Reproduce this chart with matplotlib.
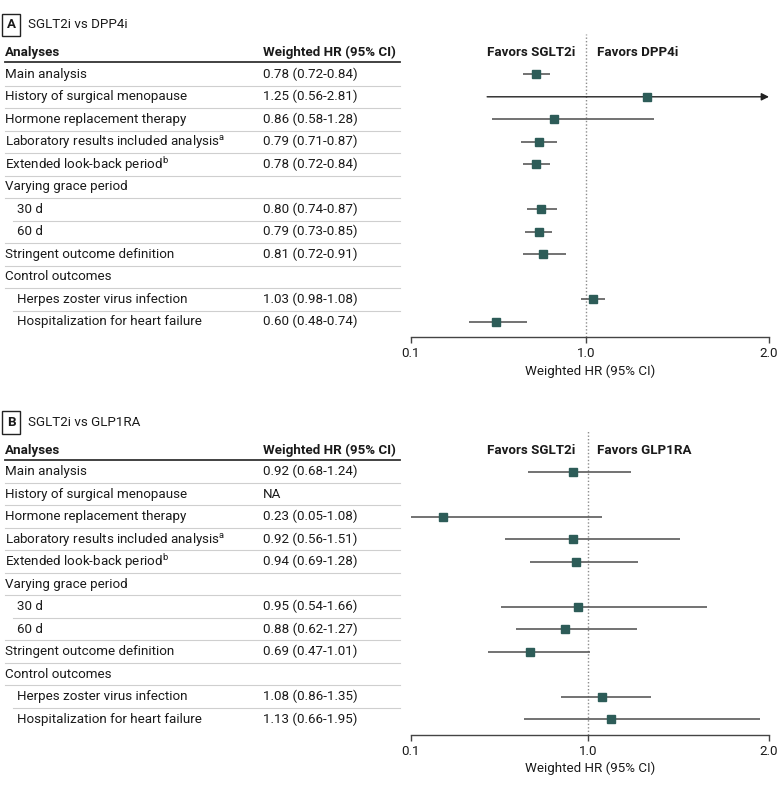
import numpy as np
import matplotlib
matplotlib.use("Agg")
import matplotlib.pyplot as plt
from matplotlib import font_manager
from matplotlib.transforms import blended_transform_factory
from matplotlib.ticker import NullLocator


def pick_font(fams):
    for f in fams:
        try:
            font_manager.findfont(f, fallback_to_default=False)
            return f
        except ValueError:
            pass
    return "DejaVu Sans"


FONT = pick_font(["Liberation Sans Narrow", "Roboto", "Open Sans"])
FS = 10.5 if FONT == "Liberation Sans Narrow" else 9.6
plt.rcParams["font.family"] = [FONT, "DejaVu Sans"]
plt.rcParams["mathtext.fontset"] = "custom"
plt.rcParams["mathtext.rm"] = FONT
plt.rcParams["mathtext.it"] = FONT + ":italic"
plt.rcParams["mathtext.bf"] = FONT + ":bold"

# ---- data ----
analyses = ["Main analysis", "History of surgical menopause", "Hormone replacement therapy",
            r"Laboratory results included analysis$^{\mathrm{a}}$",
            r"Extended look-back period$^{\mathrm{b}}$",
            "Varying grace period", "30 d", "60 d", "Stringent outcome definition",
            "Control outcomes", "Herpes zoster virus infection",
            "Hospitalization for heart failure"]
indent = [0, 0, 0, 0, 0, 0, 1, 1, 0, 0, 1, 1]

nan = np.nan
hr_a = [0.78, 1.25, 0.86, 0.79, 0.78, nan, 0.80, 0.79, 0.81, nan, 1.03, 0.60]
lo_a = [0.72, 0.56, 0.58, 0.71, 0.72, nan, 0.74, 0.73, 0.72, nan, 0.98, 0.48]
hi_a = [0.84, 2.81, 1.28, 0.87, 0.84, nan, 0.87, 0.85, 0.91, nan, 1.08, 0.74]

hr_b = [0.92, nan, 0.23, 0.92, 0.94, nan, 0.95, 0.88, 0.69, nan, 1.08, 1.13]
lo_b = [0.68, nan, 0.05, 0.56, 0.69, nan, 0.54, 0.62, 0.47, nan, 0.86, 0.66]
hi_b = [1.24, nan, 1.08, 1.51, 1.28, nan, 1.66, 1.27, 1.01, nan, 1.35, 1.95]
na_b = [False, True, False, False, False, False, False, False, False, False, False, False]

panels = [
    dict(tag="A", title="SGLT2i vs DPP4i", right="Favors DPP4i",
         hr=hr_a, lo=lo_a, hi=hi_a, na=[False] * 12,
         knots=([0.1, 0.4, 1.0, 1.5, 2.0], [0, 40.3, 174.7, 297.2, 358])),
    dict(tag="B", title="SGLT2i vs GLP1RA", right="Favors GLP1RA",
         hr=hr_b, lo=lo_b, hi=hi_b, na=na_b,
         knots=([0.1, 0.15, 1.0, 2.0], [0, 17.3, 176.7, 358])),
]

W, H = 780, 789
TXT = "#1a1a1a"
SQ = "#2d5c58"
CI = "#5a5a5a"


def make_scale(kx, kt):
    kx = np.asarray(kx, float)
    kt = np.asarray(kt, float)

    def build(a, b):
        s0 = (b[1] - b[0]) / (a[1] - a[0])
        s1 = (b[-1] - b[-2]) / (a[-1] - a[-2])

        def f(v):
            v = np.asarray(v, float)
            out = np.interp(v, a, b)
            out = np.where(v < a[0], b[0] + (v - a[0]) * s0, out)
            out = np.where(v > a[-1], b[-1] + (v - a[-1]) * s1, out)
            return out
        return f
    return build(kx, kt), build(kt, kx)


fig = plt.figure(figsize=(W / 100, H / 100), dpi=100)


def fx(px):
    return px / W


for k, p in enumerate(panels):
    off = 397.4 * k
    top_px, bot_px = 34 + off, 337.5 + off
    row0, step = 74.3 + off, 22.5
    ax = fig.add_axes([fx(411), 1 - bot_px / H, fx(358), (bot_px - top_px) / H])
    fwd, inv = make_scale(*p["knots"])
    ax.set_xscale("function", functions=(fwd, inv))
    ax.set_xlim(0.1, 2.0)
    ax.set_ylim((bot_px - row0) / step, (top_px - row0) / step)

    def iy(px):
        return (px + off - row0) / step

    tr = blended_transform_factory(fig.transFigure, ax.transData)

    # panel title
    ax.text(fx(11), iy(25), p["tag"], transform=tr, ha="center", va="center",
            fontsize=FS, fontweight="bold", color=TXT,
            bbox=dict(boxstyle="square,pad=0.35", fc="white", ec="#222222", lw=1))
    ax.text(fx(28), iy(25), p["title"], transform=tr, ha="left", va="center",
            fontsize=FS, color=TXT)

    # table header
    ax.text(fx(5), iy(52.7), "Analyses", transform=tr, ha="left", va="center",
            fontsize=FS, fontweight="bold", color=TXT)
    ax.text(fx(263), iy(52.7), "Weighted HR (95% CI)", transform=tr, ha="left",
            va="center", fontsize=FS, fontweight="bold", color=TXT)
    ax.plot([fx(5), fx(400)], [iy(62.3)] * 2, transform=tr, clip_on=False,
            color="#333333", lw=1.3)

    # favors labels
    ax.text(fx(575), iy(52.7), "Favors SGLT2i", transform=tr, ha="right",
            va="center", fontsize=FS, fontweight="bold", color=TXT)
    ax.text(fx(597), iy(52.7), p["right"], transform=tr, ha="left",
            va="center", fontsize=FS, fontweight="bold", color=TXT)

    n = len(analyses)
    for i in range(n):
        ax.text(fx(16.7 if indent[i] else 5), i, analyses[i], transform=tr,
                ha="left", va="center", fontsize=FS, color=TXT)
        if p["na"][i]:
            s = "NA"
        elif np.isnan(p["hr"][i]):
            s = ""
        else:
            s = f"{p['hr'][i]:.2f} ({p['lo'][i]:.2f}-{p['hi'][i]:.2f})"
        ax.text(fx(263), i, s, transform=tr, ha="left", va="center",
                fontsize=FS, color=TXT)
        if i < n - 1:
            x0 = 13 if (indent[i] and indent[i + 1]) else 5
            ax.plot([fx(x0), fx(400)], [i + 0.5] * 2, transform=tr,
                    clip_on=False, color="#cfcfcf", lw=0.8)

        h, lo, hi = p["hr"][i], p["lo"][i], p["hi"][i]
        if np.isnan(h):
            continue
        lo_c = max(lo, 0.1)
        if hi > 2.0:
            ax.annotate("", xy=(2.0, i), xytext=(lo_c, i),
                        arrowprops=dict(arrowstyle="-|>", color="#222222", lw=1,
                                        mutation_scale=11, shrinkA=0, shrinkB=0),
                        zorder=2)
        else:
            ax.plot([lo_c, hi], [i, i], color=CI, lw=1.2, zorder=2,
                    solid_capstyle="butt")
        ax.plot(h, i, marker="s", ms=6, color=SQ, mec=SQ, zorder=3)

    ax.axvline(1.0, color="#8c8c8c", ls=(0, (1, 1.5)), lw=1, zorder=1)

    for side in ["top", "left", "right"]:
        ax.spines[side].set_visible(False)
    ax.spines["bottom"].set_color("#444444")
    ax.spines["bottom"].set_linewidth(1)
    ax.set_yticks([])
    ax.set_xticks([0.1, 1.0, 2.0])
    ax.set_xticklabels(["0.1", "1.0", "2.0"])
    ax.xaxis.set_minor_locator(NullLocator())
    ax.tick_params(axis="x", direction="out", length=4, width=1, color="#444444",
                   labelsize=FS, labelcolor=TXT, pad=3)
    ax.set_xlabel("Weighted HR (95% CI)", fontsize=FS, color=TXT, labelpad=3)

fig.savefig("out.png", dpi=100)
